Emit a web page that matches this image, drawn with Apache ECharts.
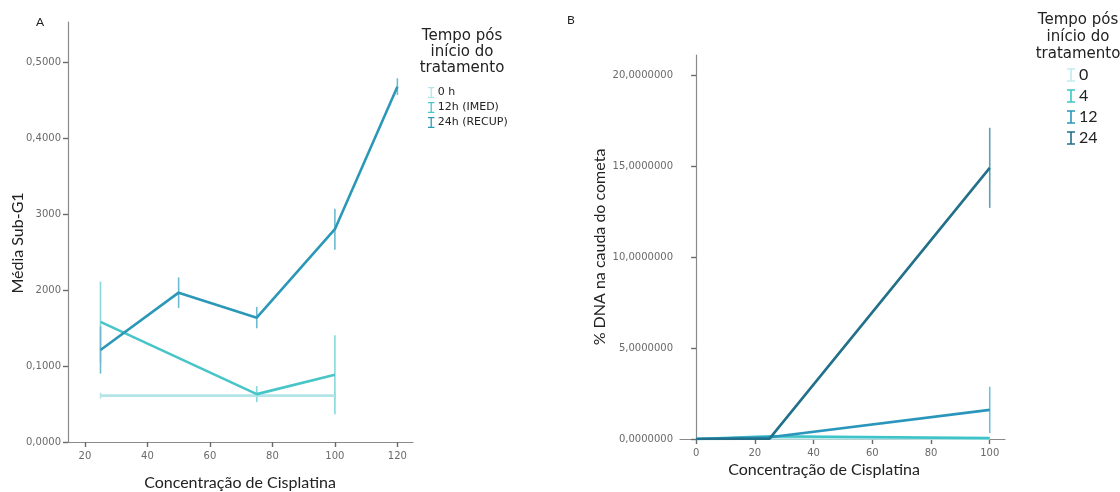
<!DOCTYPE html>
<html>
<head>
<meta charset="utf-8">
<script src="https://cdn.jsdelivr.net/npm/echarts@6/dist/echarts.min.js"></script>
<style>
  html, body { margin: 0; padding: 0; background: #fff; }
  #chart { width: 1120px; height: 492px; }
</style>
</head>
<body>
<div id="chart"></div>
<script>
// ---- Panel A: Média Sub-G1 vs concentração de cisplatina ----
const xTicksA = [20, 40, 60, 80, 100, 120];
const yTicksA = [0, 0.1, 0.2, 0.3, 0.4, 0.5];
const yTickLabelsA = ['0,0000', '0,1000', '2000', '3000', '0,4000', '0,5000'];

const concA_0h = [25, 75, 100];
const meanA_0h = [0.061, 0.061, 0.061];
const errA_0h = [0.004, 0.004, 0.004];

const concA_12h = [25, 75, 100];
const meanA_12h = [0.158, 0.063, 0.0886];
const errA_12h = [0.053, 0.0105, 0.052];

const concA_24h = [25, 50, 75, 100, 120];
const meanA_24h = [0.121, 0.1965, 0.1636, 0.280, 0.4675];
const errA_24h = [0.031, 0.020, 0.014, 0.027, 0.011];

const legendA = ['0 h', '12h (IMED)', '24h (RECUP)'];

// ---- Panel B: % DNA na cauda do cometa ----
const xTicksB = [0, 20, 40, 60, 80, 100];
const yTicksB = [0, 5, 10, 15, 20];
const yTickLabelsB = ['0,0000000', '5,0000000', '10,0000000', '15,0000000', '20,0000000'];

const concB = [0, 25, 100];
const meanB_0 = [0, 0.05, 0.02];
const errB_0 = [0, 0, 0];
const meanB_4 = [0, 0.15, 0.05];
const errB_4 = [0, 0, 0];
const meanB_12 = [0, 0.10, 1.60];
const errB_12 = [0, 0, 1.27];
const meanB_24 = [0, 0.02, 14.9];
const errB_24 = [0, 0, 2.2];

const legendB = ['0', '4', '12', '24'];

const colA = ['#b3e5e8', '#48c5c8', '#2b98b8'];
const errColA = ['#b8e7ea', '#86d8da', '#6db9d0'];
const colB = ['#c2ebee', '#3ec4c8', '#2b96bc', '#22708a'];
const errColB = ['#c2ebee', '#86d8da', '#75bfd8', '#5e9fb3'];

const FONT = '"DejaVu Sans", sans-serif';
const TITLE_FONT = 'Lato, "Open Sans", sans-serif';

function pairs(xs, ys) { return xs.map((x, i) => [x, ys[i]]); }
function errData(xs, ys, es) { return xs.map((x, i) => [x, ys[i] - es[i], ys[i] + es[i]]); }

function lineSeries(name, idx, xs, ys, color) {
  return {
    type: 'line', name: name, xAxisIndex: idx, yAxisIndex: idx,
    data: pairs(xs, ys), showSymbol: false, symbol: 'none',
    lineStyle: { color: color, width: 2.6 }, itemStyle: { color: color },
    animation: false, z: 3
  };
}

function errSeries(idx, xs, ys, es, color) {
  return {
    type: 'custom', xAxisIndex: idx, yAxisIndex: idx,
    data: errData(xs, ys, es), animation: false, z: 2, silent: true,
    renderItem: function (params, api) {
      const lo = api.coord([api.value(0), api.value(1)]);
      const hi = api.coord([api.value(0), api.value(2)]);
      if (Math.abs(hi[1] - lo[1]) < 0.5) return null;
      return {
        type: 'line',
        shape: { x1: lo[0], y1: lo[1], x2: hi[0], y2: hi[1] },
        style: { stroke: color, lineWidth: 1.6 }
      };
    }
  };
}

function valueAxis(gridIndex, min, max, ticks, labels, isY) {
  return {
    type: 'value', gridIndex: gridIndex, min: min, max: max,
    axisLine: { show: true, lineStyle: { color: '#8a8a8a', width: 1.2 } },
    axisTick: { show: true, length: 5, customValues: ticks, lineStyle: { color: '#6a6a6a', width: 1.4 } },
    axisLabel: {
      customValues: ticks, color: '#6a6a6a', fontFamily: FONT, fontSize: 10, margin: isY ? 7 : 9,
      formatter: function (v) {
        const i = ticks.findIndex(t => Math.abs(t - v) < 1e-9);
        return i >= 0 ? labels[i] : '';
      }
    },
    splitLine: { show: false }
  };
}

const iconI = 'path://M0,0 L7,0 L7,1.4 L4.2,1.4 L4.2,10.6 L7,10.6 L7,12 L0,12 L0,10.6 L2.8,10.6 L2.8,1.4 L0,1.4 Z';

const chart = echarts.init(document.getElementById('chart'), null, { renderer: 'canvas' });

const option = {
  backgroundColor: '#fff',
  animation: false,
  grid: [
    { left: 68, top: 22, width: 345, height: 420, containLabel: false },
    { left: 680, top: 55, width: 325, height: 384, containLabel: false }
  ],
  xAxis: [
    valueAxis(0, 14.6, 125, xTicksA, xTicksA.map(String), false),
    valueAxis(1, -5.5, 105.2, xTicksB, xTicksB.map(String), false)
  ],
  yAxis: [
    valueAxis(0, 0, 0.5526, yTicksA, yTickLabelsA, true),
    valueAxis(1, 0, 21.1, yTicksB, yTickLabelsB, true)
  ],
  legend: [
    {
      data: legendA, orient: 'vertical', left: 423, top: 82,
      icon: iconI, itemWidth: 7, itemHeight: 11, itemGap: 4,
      textStyle: { fontFamily: FONT, fontSize: 11, color: '#222', padding: [0, 0, 0, -2] },
      selectedMode: false
    },
    {
      data: legendB, orient: 'vertical', left: 1062, top: 62,
      icon: iconI, itemWidth: 8, itemHeight: 14, itemGap: 5,
      textStyle: { fontFamily: TITLE_FONT, fontSize: 16, lineHeight: 16, color: '#222', padding: [0, 0, 0, -1] },
      selectedMode: false
    }
  ],
  graphic: [
    { type: 'text', left: 36, top: 16, style: { text: 'A', font: '12px ' + TITLE_FONT, fill: '#222' } },
    { type: 'text', left: 567, top: 14, style: { text: 'B', font: '12px ' + TITLE_FONT, fill: '#222' } },
    { type: 'text', x: 462, y: 52, style: { text: 'Tempo pós\ninício do\ntratamento', font: '15px ' + FONT, fill: '#222', align: 'center', verticalAlign: 'middle', lineHeight: 16 } },
    { type: 'text', x: 1078, y: 37, style: { text: 'Tempo pós\ninício do\ntratamento', font: '15px ' + FONT, fill: '#222', align: 'center', verticalAlign: 'middle', lineHeight: 17 } },
    { type: 'text', x: 18, y: 243, rotation: Math.PI / 2, style: { text: 'Média Sub-G1', font: '16px ' + TITLE_FONT, fill: '#222', align: 'center', verticalAlign: 'middle' } },
    { type: 'text', x: 600, y: 247, rotation: Math.PI / 2, style: { text: '% DNA na cauda do cometa', font: '16px ' + TITLE_FONT, fill: '#222', align: 'center', verticalAlign: 'middle' } },
    { type: 'text', x: 240, y: 483, style: { text: 'Concentração de Cisplatina', font: '16px ' + TITLE_FONT, fill: '#222', align: 'center', verticalAlign: 'middle' } },
    { type: 'text', x: 824, y: 470, style: { text: 'Concentração de Cisplatina', font: '16px ' + TITLE_FONT, fill: '#222', align: 'center', verticalAlign: 'middle' } }
  ],
  series: [
    errSeries(0, concA_0h, meanA_0h, errA_0h, errColA[0]),
    errSeries(0, concA_12h, meanA_12h, errA_12h, errColA[1]),
    errSeries(0, concA_24h, meanA_24h, errA_24h, errColA[2]),
    lineSeries(legendA[0], 0, concA_0h, meanA_0h, colA[0]),
    lineSeries(legendA[1], 0, concA_12h, meanA_12h, colA[1]),
    lineSeries(legendA[2], 0, concA_24h, meanA_24h, colA[2]),

    errSeries(1, concB, meanB_0, errB_0, errColB[0]),
    errSeries(1, concB, meanB_4, errB_4, errColB[1]),
    errSeries(1, concB, meanB_12, errB_12, errColB[2]),
    errSeries(1, concB, meanB_24, errB_24, errColB[3]),
    lineSeries(legendB[0], 1, concB, meanB_0, colB[0]),
    lineSeries(legendB[1], 1, concB, meanB_4, colB[1]),
    lineSeries(legendB[2], 1, concB, meanB_12, colB[2]),
    lineSeries(legendB[3], 1, concB, meanB_24, colB[3])
  ]
};

chart.setOption(option);
</script>
</body>
</html>
